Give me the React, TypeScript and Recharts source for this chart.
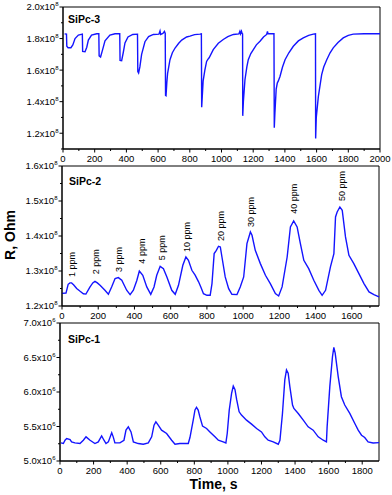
import { LineChart, Line, XAxis, YAxis, ReferenceArea, ReferenceDot } from "recharts";

const FONT = "'Liberation Sans', Arial, Helvetica, sans-serif";
const BLUE = "#1414ff";

// SiPc-3, R in units of 1e8 Ohm
const sipc3Time = [
  10, 22, 24, 32, 50, 62, 76, 97, 122, 124, 139, 150, 160, 180, 213, 226, 228, 237, 250, 265, 296, 328,
  358, 360, 370, 380, 391, 410, 440, 470, 472, 477, 485, 496, 517, 540, 570, 605, 612, 616, 630, 640,
  645, 647, 650, 655, 660, 675, 690, 707, 730, 749, 780, 801, 830, 864, 873, 875, 878, 884, 895, 906,
  915, 922, 948, 980, 1011, 1040, 1075, 1110, 1116, 1120, 1126, 1130, 1133, 1134, 1138, 1148, 1160,
  1169, 1185, 1201, 1220, 1243, 1265, 1285, 1290, 1294, 1331, 1333, 1337, 1345, 1352, 1358, 1369, 1385,
  1401, 1425, 1453, 1485, 1516, 1550, 1579, 1593, 1594, 1598, 1611, 1632, 1645, 1664, 1685, 1705, 1735,
  1768, 1800, 1831, 1900, 2000,
];
const sipc3R = [
  1.83, 1.828, 1.752, 1.742, 1.742, 1.76, 1.8, 1.822, 1.828, 1.719, 1.716, 1.745, 1.79, 1.822, 1.83, 1.83,
  1.69, 1.683, 1.73, 1.785, 1.822, 1.83, 1.83, 1.662, 1.66, 1.71, 1.772, 1.81, 1.826, 1.828, 1.59, 1.581,
  1.62, 1.7, 1.78, 1.812, 1.826, 1.828, 1.848, 1.826, 1.832, 1.845, 1.832, 1.44, 1.438, 1.52, 1.58,
  1.666, 1.71, 1.74, 1.77, 1.79, 1.81, 1.815, 1.825, 1.828, 1.83, 1.365, 1.42, 1.53, 1.6, 1.655, 1.67,
  1.678, 1.73, 1.77, 1.794, 1.812, 1.826, 1.83, 1.846, 1.83, 1.846, 1.832, 1.83, 1.31, 1.4, 1.539, 1.62,
  1.666, 1.705, 1.73, 1.76, 1.783, 1.81, 1.826, 1.846, 1.83, 1.83, 1.235, 1.33, 1.48, 1.518, 1.53, 1.56,
  1.62, 1.666, 1.71, 1.751, 1.785, 1.804, 1.82, 1.828, 1.83, 1.167, 1.3, 1.432, 1.571, 1.62, 1.666, 1.71,
  1.741, 1.775, 1.804, 1.82, 1.828, 1.83, 1.83,
];

// SiPc-2, R in units of 1e8 Ohm
const sipc2Time = [
  0, 22, 34, 44, 53, 65, 81, 100, 118, 132, 154, 170, 182, 195, 210, 237, 256, 274, 293, 311, 330, 357,
  376, 394, 413, 427, 446, 468, 490, 508, 523, 542, 560, 579, 606, 625, 643, 667, 684, 698, 717, 735,
  754, 768, 781, 800, 818, 828, 840, 852, 864, 874, 883, 901, 920, 938, 966, 984, 1003, 1021, 1040,
  1049, 1067, 1095, 1123, 1150, 1178, 1196, 1215, 1243, 1261, 1279, 1298, 1316, 1335, 1362, 1390, 1418,
  1436, 1455, 1482, 1501, 1510, 1519, 1534, 1547, 1565, 1584, 1611, 1639, 1667, 1695, 1722, 1750,
];
const sipc2R = [
  1.236, 1.237, 1.262, 1.266, 1.266, 1.26, 1.25, 1.242, 1.235, 1.234, 1.254, 1.266, 1.2705, 1.266, 1.259,
  1.245, 1.2334, 1.2545, 1.2783, 1.2811, 1.2735, 1.245, 1.2325, 1.245, 1.273, 1.3, 1.2878, 1.2545, 1.2334,
  1.2545, 1.2878, 1.3134, 1.3068, 1.283, 1.2449, 1.2334, 1.2592, 1.3163, 1.34, 1.3305, 1.302, 1.288,
  1.269, 1.252, 1.2353, 1.2306, 1.2306, 1.264, 1.3497, 1.3592, 1.3706, 1.3687, 1.34, 1.283, 1.2497,
  1.2334, 1.2325, 1.2545, 1.283, 1.3783, 1.4116, 1.4021, 1.3592, 1.3211, 1.2878, 1.264, 1.2353, 1.2287,
  1.2545, 1.34, 1.4259, 1.443, 1.4259, 1.3783, 1.3306, 1.3068, 1.2735, 1.2449, 1.2306, 1.2449, 1.3116,
  1.3497, 1.4545, 1.4687, 1.483, 1.4735, 1.3973, 1.3449, 1.3211, 1.2925, 1.264, 1.2401, 1.2325, 1.2259,
];

// concentration labels over the SiPc-2 peaks
const ppmLabels = ["1 ppm", "2 ppm", "3 ppm", "4 ppm", "5 ppm", "10 ppm", "20 ppm", "30 ppm", "40 ppm", "50 ppm"];
const ppmTime = [57, 186, 315, 443, 554, 688, 876, 1043, 1281, 1544];
const ppmLevel = [1.283, 1.2906, 1.2971, 1.3211, 1.3306, 1.3543, 1.3857, 1.4257, 1.4637, 1.4997];

// SiPc-1, R in units of 1e6 Ohm
const sipc1Time = [
  6, 20, 30, 40, 60, 69, 89, 119, 139, 155, 179, 208, 228, 248, 262, 274, 288, 308, 317, 327, 357, 381,
  393, 407, 423, 437, 466, 496, 526, 546, 560, 571, 585, 605, 635, 665, 685, 714, 744, 764, 774, 794,
  804, 813, 823, 833, 849, 873, 893, 923, 943, 972, 988, 996, 1008, 1022, 1032, 1042, 1052, 1067, 1081,
  1111, 1141, 1171, 1200, 1220, 1240, 1270, 1300, 1310, 1325, 1339, 1349, 1359, 1369, 1385, 1393, 1419,
  1449, 1478, 1508, 1538, 1568, 1587, 1591, 1607, 1623, 1631, 1639, 1657, 1676, 1696, 1726, 1756, 1776,
  1796, 1815, 1835, 1865, 1900,
];
const sipc1R = [
  5.262, 5.253, 5.301, 5.325, 5.311, 5.277, 5.262, 5.253, 5.301, 5.35, 5.301, 5.253, 5.277, 5.364, 5.301,
  5.253, 5.277, 5.408, 5.35, 5.262, 5.262, 5.301, 5.447, 5.495, 5.422, 5.277, 5.253, 5.243, 5.262, 5.35,
  5.519, 5.568, 5.519, 5.447, 5.398, 5.301, 5.243, 5.253, 5.253, 5.253, 5.34, 5.6, 5.74, 5.776, 5.737,
  5.641, 5.505, 5.471, 5.422, 5.35, 5.301, 5.277, 5.262, 5.398, 5.737, 5.98, 6.087, 6.038, 5.893, 5.713,
  5.665, 5.592, 5.534, 5.471, 5.422, 5.35, 5.301, 5.277, 5.243, 5.301, 5.689, 6.175, 6.32, 6.272, 6.078,
  5.811, 5.762, 5.689, 5.592, 5.495, 5.447, 5.35, 5.301, 5.277, 5.495, 6.078, 6.515, 6.646, 6.563, 6.224,
  5.932, 5.811, 5.689, 5.543, 5.447, 5.374, 5.34, 5.277, 5.262, 5.267,
];

// axis ticks
const xMajor3 = [0, 200, 400, 600, 800, 1000, 1200, 1400, 1600, 1800, 2000];
const xMinor3 = [100, 300, 500, 700, 900, 1100, 1300, 1500, 1700, 1900];
const yMajor3 = [1.2, 1.4, 1.6, 1.8, 2.0];
const yMinor3 = [1.1, 1.3, 1.5, 1.7, 1.9];

const xMajor2 = [0, 200, 400, 600, 800, 1000, 1200, 1400, 1600];
const xMinor2 = [100, 300, 500, 700, 900, 1100, 1300, 1500, 1700];
const yMajor2 = [1.2, 1.3, 1.4, 1.5, 1.6];
const yMinor2 = [1.25, 1.35, 1.45, 1.55];

const xMajor1 = [0, 200, 400, 600, 800, 1000, 1200, 1400, 1600, 1800];
const xMinor1 = [100, 300, 500, 700, 900, 1100, 1300, 1500, 1700];
const yMajor1 = [5.0, 5.5, 6.0, 6.5, 7.0];
const yMinor1 = [5.25, 5.75, 6.25, 6.75];

const toRows = (ts: number[], rs: number[]) => ts.map((t, i) => ({ t, r: rs[i] }));
const allTicks = (a: number[], b: number[]) => [...a, ...b].sort((p, q) => p - q);

function XTick(props: any) {
  const { x, y, payload, majors } = props;
  const major = majors.includes(payload.value);
  return (
    <g>
      <line x1={x} x2={x} y1={y} y2={y + (major ? 3.5 : 2)} stroke="#000" />
      {major && (
        <text x={x} y={y + 13} textAnchor="middle" fontSize={9.5} style={{ fontFamily: FONT }} fill="#000">
          {payload.value}
        </text>
      )}
    </g>
  );
}

function YTick(props: any) {
  const { x, y, payload, majors, exp } = props;
  const major = majors.includes(payload.value);
  return (
    <g>
      <line x1={x - (major ? 3.5 : 2)} x2={x} y1={y} y2={y} stroke="#000" />
      {major && (
        <text x={x - 4.5} y={y + 3.4} textAnchor="end" fontSize={9.5} style={{ fontFamily: FONT }} fill="#000">
          {payload.value.toFixed(1)}x10
          <tspan fontSize={6} dy={-4}>
            {exp}
          </tspan>
        </text>
      )}
    </g>
  );
}

function PpmLabel(props: any) {
  const { x, y } = props.viewBox;
  return (
    <text
      x={x}
      y={y}
      transform={`rotate(-90 ${x} ${y})`}
      dominantBaseline="central"
      fontSize={9}
      style={{ fontFamily: FONT }}
      fill="#000"
    >
      {props.text}
    </text>
  );
}

interface PanelProps {
  top: number;
  height: number;
  axisHeight: number;
  left: number;
  right: number;
  data: { t: number; r: number }[];
  xDomain: [number, number];
  yDomain: [number, number];
  xMajor: number[];
  xMinor: number[];
  yMajor: number[];
  yMinor: number[];
  exp: number;
  children?: any;
}

const Y_WIDTH = 50;

function Panel(p: PanelProps) {
  return (
    <div style={{ position: "absolute", left: 0, top: p.top }}>
      <LineChart
        width={392}
        height={p.height}
        data={p.data}
        margin={{ top: 7, right: 392 - p.right, left: p.left - Y_WIDTH, bottom: 0 }}
      >
        <XAxis
          type="number"
          dataKey="t"
          domain={p.xDomain}
          ticks={allTicks(p.xMajor, p.xMinor)}
          interval={0}
          height={p.axisHeight}
          tickSize={0}
          tickMargin={0}
          tickLine={false}
          axisLine={{ stroke: "#000" }}
          tick={(tp: any) => <XTick {...tp} majors={p.xMajor} />}
        />
        <YAxis
          type="number"
          domain={p.yDomain}
          ticks={allTicks(p.yMajor, p.yMinor)}
          interval={0}
          width={Y_WIDTH}
          tickSize={0}
          tickMargin={0}
          tickLine={false}
          axisLine={{ stroke: "#000" }}
          tick={(tp: any) => <YTick {...tp} majors={p.yMajor} exp={p.exp} />}
        />
        <ReferenceArea
          x1={p.xDomain[0]}
          x2={p.xDomain[1]}
          y1={p.yDomain[0]}
          y2={p.yDomain[1]}
          fill="none"
          fillOpacity={0}
          stroke="#000"
          strokeWidth={1}
        />
        <Line
          type="linear"
          dataKey="r"
          stroke={BLUE}
          strokeWidth={1.4}
          dot={false}
          isAnimationActive={false}
        />
        {p.children}
      </LineChart>
    </div>
  );
}

export default function App() {
  return (
    <div style={{ position: "absolute", left: 0, top: 0, width: 392, height: 495, background: "#fff" }}>
      <Panel
        top={0}
        height={165}
        axisHeight={16}
        left={63}
        right={380}
        data={toRows(sipc3Time, sipc3R)}
        xDomain={[0, 2000]}
        yDomain={[1.1, 2.0]}
        xMajor={xMajor3}
        xMinor={xMinor3}
        yMajor={yMajor3}
        yMinor={yMinor3}
        exp={8}
      />
      <Panel
        top={159}
        height={163}
        axisHeight={16}
        left={62}
        right={379}
        data={toRows(sipc2Time, sipc2R)}
        xDomain={[0, 1750]}
        yDomain={[1.2, 1.6]}
        xMajor={xMajor2}
        xMinor={xMinor2}
        yMajor={yMajor2}
        yMinor={yMinor2}
        exp={8}
      >
        {ppmLabels.map((lab, i) => (
          <ReferenceDot
            key={lab}
            x={ppmTime[i]}
            y={ppmLevel[i]}
            r={0}
            fill="none"
            stroke="none"
            label={(lp: any) => <PpmLabel {...lp} text={lab} />}
          />
        ))}
      </Panel>
      <Panel
        top={316}
        height={179}
        axisHeight={34}
        left={60}
        right={379}
        data={toRows(sipc1Time, sipc1R)}
        xDomain={[0, 1900]}
        yDomain={[5.0, 7.0]}
        xMajor={xMajor1}
        xMinor={xMinor1}
        yMajor={yMajor1}
        yMinor={yMinor1}
        exp={6}
      />
      <svg
        width={392}
        height={495}
        style={{ position: "absolute", left: 0, top: 0, pointerEvents: "none", fontFamily: FONT }}
        fontWeight="bold"
      >
        <text x={68} y={22.5} fontSize={10.5}>SiPc-3</text>
        <text x={69} y={184.5} fontSize={10.5}>SiPc-2</text>
        <text x={68} y={343} fontSize={10.5}>SiPc-1</text>
        <text x={15} y={235} fontSize={14} textAnchor="middle" transform="rotate(-90 15 235)">
          R, Ohm
        </text>
        <text x={213.5} y={489} fontSize={14} textAnchor="middle">
          Time, s
        </text>
      </svg>
    </div>
  );
}
